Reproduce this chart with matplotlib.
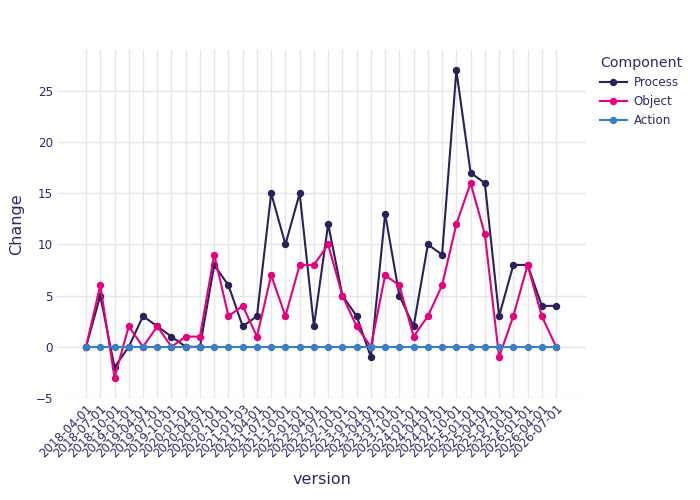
import matplotlib
matplotlib.use("Agg")
import matplotlib.pyplot as plt

versions = [
    "2018-04-01", "2018-07-01", "2018-10-01", "2019-01-01", "2019-04-01",
    "2019-07-01", "2019-10-01", "2020-01-01", "2020-04-01", "2020-07-01",
    "2020-10-01", "2021-01-03", "2021-04-01", "2021-07-01", "2021-10-01",
    "2022-01-01", "2022-04-01", "2022-07-01", "2022-10-01", "2023-01-01",
    "2023-04-01", "2023-07-01", "2023-10-01", "2024-01-01", "2024-04-01",
    "2024-07-01", "2024-10-01", "2025-01-01", "2025-04-01", "2025-07-01",
    "2025-10-01", "2026-01-01", "2026-04-01", "2026-07-01",
]
process = [0, 5, -2, 0, 3, 2, 1, 0, 0, 8, 6, 2, 3, 15, 10, 15, 2, 12, 5, 3,
           -1, 13, 5, 2, 10, 9, 27, 17, 16, 3, 8, 8, 4, 4]
obj = [0, 6, -3, 2, 0, 2, 0, 1, 1, 9, 3, 4, 1, 7, 3, 8, 8, 10, 5, 2,
       0, 7, 6, 1, 3, 6, 12, 16, 11, -1, 3, 8, 3, 0]
action = [0] * len(versions)

series = [("Process", process, "#2b1f5c"),
          ("Object", obj, "#e6007e"),
          ("Action", action, "#3a7fc4")]

TEXT = "#2e2a66"
GRID = "#e6e6e6"

plt.rcParams["font.family"] = ["DejaVu Sans"]


def main():
    fig = plt.figure(figsize=(7, 5), dpi=100)
    ax = fig.add_axes([0.0814, 0.204, 0.7557, 0.696])
    x = list(range(len(versions)))
    for name, vals, color in series:
        ax.plot(x, vals, color=color, lw=1.5, marker="o", ms=4.3,
                label=name, zorder=3)

    ax.set_xlim(-2.04, 35.1)
    ax.set_ylim(-4.98, 29.0)
    ax.set_xticks(x)
    ax.set_xticklabels(versions, rotation=45, ha="right",
                       rotation_mode="anchor")
    ax.set_yticks([-5, 0, 5, 10, 15, 20, 25])
    ax.set_yticklabels(["\u22125", "0", "5", "10", "15", "20", "25"])
    ax.tick_params(length=0, labelsize=8.6, colors=TEXT)
    ax.tick_params(axis="x", pad=3)
    ax.tick_params(axis="y", pad=3)
    ax.grid(True, color=GRID, lw=1)
    ax.set_axisbelow(True)
    for s in ax.spines.values():
        s.set_visible(False)

    ax.set_xlabel("version", fontsize=11.5, color=TEXT, labelpad=8)
    ax.set_ylabel("Change", fontsize=11.5, color=TEXT, labelpad=8)

    leg = ax.legend(title="Component", loc="upper left",
                    bbox_to_anchor=(1.018, 0.996), frameon=False,
                    fontsize=8.6, title_fontsize=10.2, handlelength=2.2,
                    labelspacing=0.5, handletextpad=0.6, borderaxespad=0)
    leg.get_title().set_color(TEXT)
    leg._legend_box.align = "left"
    for t in leg.get_texts():
        t.set_color(TEXT)

    fig.savefig("out.png", dpi=100)


if __name__ == "__main__":
    main()
